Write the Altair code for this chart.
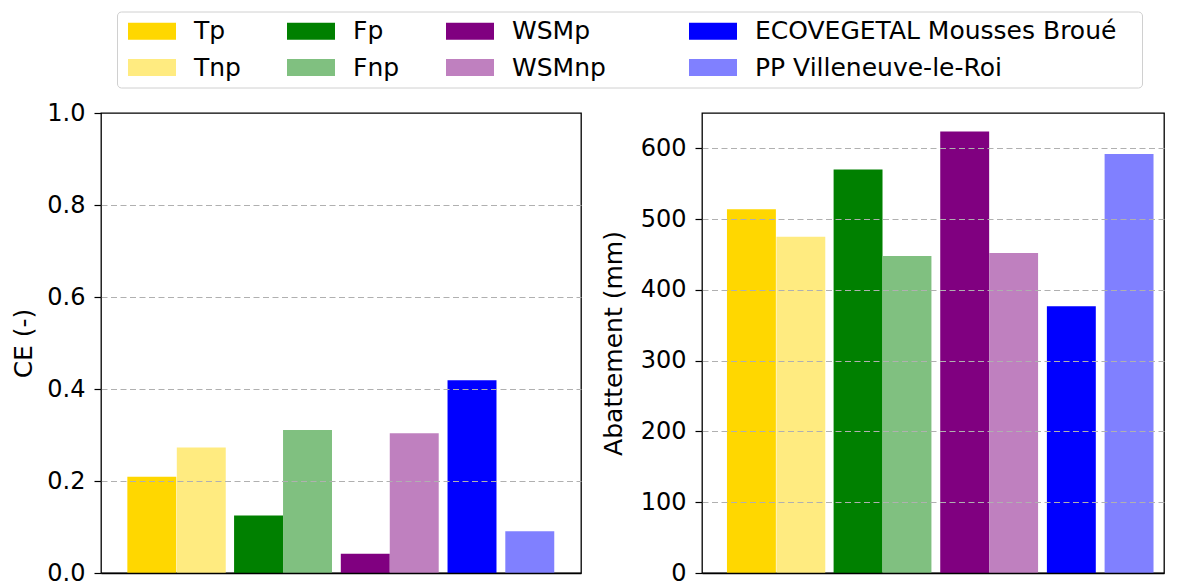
import altair as alt
import pandas as pd

categories = ["Tp", "Tnp", "Fp", "Fnp", "WSMp", "WSMnp",
              "ECOVEGETAL Mousses Broué", "PP Villeneuve-le-Roi"]
positions = [0.0, 1.01, 2.18, 3.18, 4.36, 5.36, 6.54, 7.72]
ce_values = [0.209, 0.273, 0.125, 0.311, 0.042, 0.304, 0.419, 0.091]
abattement_values = [514, 475, 570, 448, 624, 452, 377, 592]
colors = ["#FFD700", "#FFEB80", "#008000", "#80C080",
          "#800080", "#BF80BF", "#0000FF", "#8080FF"]
ce_ticks = [0.0, 0.2, 0.4, 0.6, 0.8, 1.0]
ab_ticks = [0, 100, 200, 300, 400, 500, 600]

BAR_W = 1.0
df = pd.DataFrame({"cat": categories, "pos": positions,
                   "ce": ce_values, "ab": abattement_values})
df["x0"] = df["pos"] - BAR_W / 2
df["x1"] = df["pos"] + BAR_W / 2

BLANK = "\u2800"
label_expr = (
    f"datum.label == 'WSMnp' ? 'WSMnp{BLANK * 2}' : "
    f"(datum.label == 'ECOVEGETAL Mousses Broué' ? 'ECOVEGETAL Mousses Broué{BLANK}' : datum.label)"
)

color = alt.Color(
    "cat:N",
    scale=alt.Scale(domain=categories, range=colors),
    legend=alt.Legend(
        title=None, orient="none", legendX=16, legendY=-101.5,
        columns=4, columnPadding=42, rowPadding=10.5,
        symbolType="M-1,-1L4.647,-1L4.647,1L-1,1Z",
        symbolSize=289, symbolStrokeWidth=0, symbolOpacity=1,
        labelFontSize=25, labelFont="DejaVu Sans", labelColor="black",
        labelOffset=45, labelLimit=700,
        labelExpr=label_expr,
        padding=7, strokeColor="#d0d0d0", fillColor="white", cornerRadius=4,
    ),
)


def panel(field, title, ydom, ticks, fmt, tpad, width, xdom):
    return alt.Chart(df).mark_bar(strokeWidth=0, orient="vertical").encode(
        x=alt.X("x0:Q", scale=alt.Scale(domain=xdom, nice=False, zero=False),
                axis=alt.Axis(title=None, labels=False, ticks=False, grid=False,
                              domain=True, domainColor="black", domainWidth=1.3,
                              zindex=1)),
        x2="x1:Q",
        y=alt.Y(f"{field}:Q", scale=alt.Scale(domain=ydom, nice=False),
                axis=alt.Axis(title=title, values=ticks, format=fmt,
                              domain=False, tickSize=7, tickWidth=1.2,
                              tickColor="black", labelPadding=9,
                              titlePadding=tpad, zindex=1,
                              gridDash=[6, 3.5], gridColor="#b0b0b0",
                              gridWidth=1,
                              gridOpacity=alt.condition(
                                  "datum.value == 0 || datum.value == 1",
                                  alt.value(0), alt.value(1)))),
        y2=alt.datum(0),
        color=color,
    ).properties(width=width, height=460)


left = panel("ce", "CE (-)", [0, 1.0], ce_ticks, ".1f", 10, 480, [-0.936, 8.664])
right = panel("ab", "Abattement (mm)", [0, 650], ab_ticks, "d", 14, 462, [-0.908, 8.332])

chart = alt.hconcat(left, right, spacing=18).properties(
    padding={"left": 3, "top": 3, "right": 0, "bottom": 0}
).configure(font="DejaVu Sans").configure_view(
    stroke="black", strokeWidth=1.3
).configure_axis(
    labelFontSize=24, labelColor="black", titleFontSize=25,
    titleFontWeight="normal", titleColor="black", labelFont="DejaVu Sans",
    titleFont="DejaVu Sans"
)

chart.save("out.html", embed_options={"renderer": "svg", "actions": False})
